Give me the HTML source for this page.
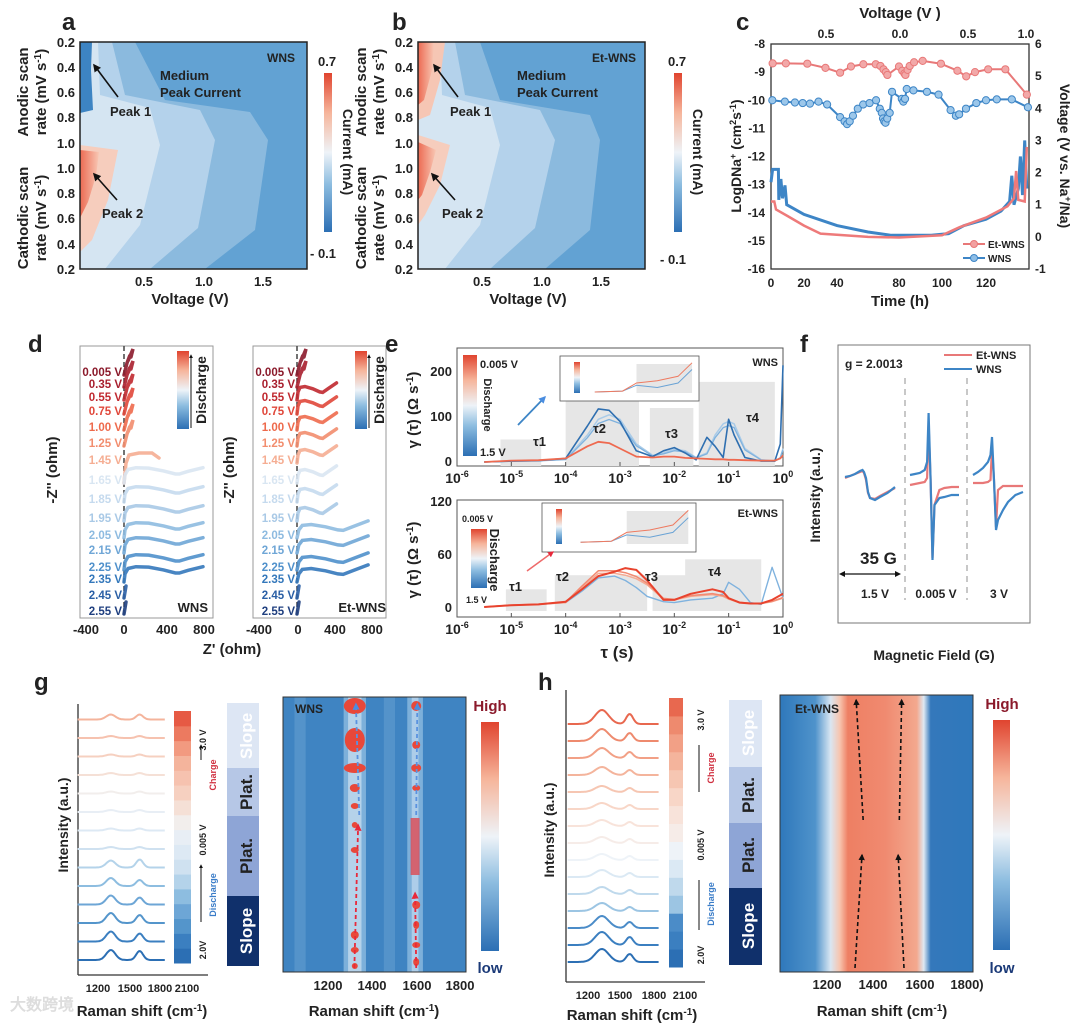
<!DOCTYPE html>
<html><head><meta charset="utf-8"><style>
html,body{margin:0;padding:0;background:#fff}
svg{display:block;font-family:"Liberation Sans",Arial,sans-serif;font-weight:bold}
text{fill:#222}
</style></head><body>
<svg id="fig" width="1080" height="1024" viewBox="0 0 1080 1024" xmlns="http://www.w3.org/2000/svg">
<defs>
<linearGradient id="cbRB" x1="0" y1="1" x2="0" y2="0"><stop offset="0" stop-color="#2c6fb4"/><stop offset="0.3" stop-color="#8dbde0"/><stop offset="0.5" stop-color="#eef3f8"/><stop offset="0.75" stop-color="#f6b59b"/><stop offset="1" stop-color="#e0442f"/></linearGradient>
<linearGradient id="redPk" x1="0" y1="0" x2="1" y2="0"><stop offset="0" stop-color="#ec6a52"/><stop offset="1" stop-color="#f8c7b4"/></linearGradient>
<marker id="ah" viewBox="0 0 10 10" refX="8" refY="5" markerWidth="5" markerHeight="5" orient="auto"><path d="M0,0L10,5L0,10z" fill="#111"/></marker>
<marker id="ahR" viewBox="0 0 10 10" refX="8" refY="5" markerWidth="4" markerHeight="4" orient="auto"><path d="M0,0L10,5L0,10z" fill="#e8283a"/></marker>
<marker id="ahB" viewBox="0 0 10 10" refX="8" refY="5" markerWidth="4" markerHeight="4" orient="auto"><path d="M0,0L10,5L0,10z" fill="#4a8de0"/></marker>
<marker id="ahK" viewBox="0 0 10 10" refX="8" refY="5" markerWidth="4" markerHeight="4" orient="auto"><path d="M0,0L10,5L0,10z" fill="#111"/></marker>
<marker id="ahBoth" viewBox="0 0 10 10" refX="5" refY="5" markerWidth="5" markerHeight="5" orient="auto-start-reverse"><path d="M0,0L10,5L0,10z" fill="#111"/></marker>
</defs>

<!-- ===== Panel a ===== -->
<g>
<text x="62" y="30" font-size="24">a</text>
<rect x="80" y="42" width="227" height="227" fill="#62a2d3"/>
<polygon points="80,42 135,42 165,100 250,112 268,140 255,230 205,269 80,269" fill="#8bbade"/>
<polygon points="80,42 112,42 125,95 200,110 215,140 198,228 150,269 80,269" fill="#b4d2eb"/>
<polygon points="80,42 98,42 100,95 150,108 160,145 140,225 105,269 80,269" fill="#d5e5f2"/>
<polygon points="80,145 118,150 108,200 92,240 80,252" fill="#f6cdbd"/>
<polygon points="80,150 99,152 96,176 88,202 80,218" fill="url(#redPk)"/>
<polygon points="80,42 92,42 91,70 93,110 80,113" fill="#3d84c3"/>
<rect x="80" y="42" width="227" height="227" fill="none" stroke="#222" stroke-width="1.5"/>
<text x="295" y="62" font-size="12" text-anchor="end">WNS</text>
<text x="160" y="80" font-size="13" fill="#1e2d40">Medium</text>
<text x="160" y="97" font-size="13">Peak Current</text>
<line x1="118" y1="97" x2="94" y2="65" stroke="#111" stroke-width="1.6" marker-end="url(#ah)"/>
<text x="110" y="116" font-size="13">Peak 1</text>
<line x1="117" y1="200" x2="94" y2="174" stroke="#111" stroke-width="1.6" marker-end="url(#ah)"/>
<text x="102" y="218" font-size="13">Peak 2</text>
<g font-size="13" text-anchor="end">
<text x="75" y="47">0.2</text><text x="75" y="72">0.4</text><text x="75" y="97">0.6</text><text x="75" y="122">0.8</text><text x="75" y="148">1.0</text><text x="75" y="173">1.0</text><text x="75" y="198">0.8</text><text x="75" y="223">0.6</text><text x="75" y="249">0.4</text><text x="75" y="274">0.2</text></g>
<g font-size="13" text-anchor="middle"><text x="144" y="286">0.5</text><text x="204" y="286">1.0</text><text x="263" y="286">1.5</text></g>
<text x="190" y="304" font-size="15" text-anchor="middle">Voltage (V)</text>
<text transform="translate(28,92) rotate(-90)" font-size="15" text-anchor="middle">Anodic scan</text>
<text transform="translate(46,92) rotate(-90)" font-size="15" text-anchor="middle">rate (mV s<tspan font-size="10" dy="-5">-1</tspan><tspan dy="5">)</tspan></text>
<text transform="translate(28,218) rotate(-90)" font-size="15" text-anchor="middle">Cathodic scan</text>
<text transform="translate(46,218) rotate(-90)" font-size="15" text-anchor="middle">rate (mV s<tspan font-size="10" dy="-5">-1</tspan><tspan dy="5">)</tspan></text>
<rect x="324" y="73" width="8" height="159" fill="url(#cbRB)"/>
<text x="318" y="66" font-size="13">0.7</text>
<text x="310" y="258" font-size="13">- 0.1</text>
<text transform="translate(343,152) rotate(90)" font-size="14" text-anchor="middle">Current (mA)</text>
</g>

<!-- ===== Panel b ===== -->
<g>
<text x="392" y="30" font-size="24">b</text>
<rect x="418" y="42" width="227" height="227" fill="#62a2d3"/>
<polygon points="418,42 480,42 500,100 590,115 600,140 590,230 545,269 418,269" fill="#8bbade"/>
<polygon points="418,42 455,42 465,95 540,110 555,140 535,228 490,269 418,269" fill="#b4d2eb"/>
<polygon points="418,42 440,42 442,95 490,108 500,145 480,225 445,269 418,269" fill="#d5e5f2"/>
<polygon points="418,42 445,42 440,80 430,115 418,120" fill="#f6c6b4"/>
<polygon points="418,42 434,42 432,70 424,100 418,105" fill="url(#redPk)"/>
<polygon points="418,135 450,145 440,185 425,215 418,225" fill="#f6cdbd"/>
<polygon points="418,142 436,150 430,172 422,195 418,200" fill="url(#redPk)"/>
<rect x="418" y="42" width="227" height="227" fill="none" stroke="#222" stroke-width="1.5"/>
<text x="636" y="62" font-size="12" text-anchor="end">Et-WNS</text>
<text x="517" y="80" font-size="13">Medium</text>
<text x="517" y="97" font-size="13">Peak Current</text>
<line x1="458" y1="97" x2="434" y2="65" stroke="#111" stroke-width="1.6" marker-end="url(#ah)"/>
<text x="450" y="116" font-size="13">Peak 1</text>
<line x1="455" y1="200" x2="432" y2="174" stroke="#111" stroke-width="1.6" marker-end="url(#ah)"/>
<text x="442" y="218" font-size="13">Peak 2</text>
<g font-size="13" text-anchor="end">
<text x="413" y="47">0.2</text><text x="413" y="72">0.4</text><text x="413" y="97">0.6</text><text x="413" y="122">0.8</text><text x="413" y="148">1.0</text><text x="413" y="173">1.0</text><text x="413" y="198">0.8</text><text x="413" y="223">0.6</text><text x="413" y="249">0.4</text><text x="413" y="274">0.2</text></g>
<g font-size="13" text-anchor="middle"><text x="482" y="286">0.5</text><text x="542" y="286">1.0</text><text x="601" y="286">1.5</text></g>
<text x="528" y="304" font-size="15" text-anchor="middle">Voltage (V)</text>
<text transform="translate(366,92) rotate(-90)" font-size="15" text-anchor="middle">Anodic scan</text>
<text transform="translate(384,92) rotate(-90)" font-size="15" text-anchor="middle">rate (mV s<tspan font-size="10" dy="-5">-1</tspan><tspan dy="5">)</tspan></text>
<text transform="translate(366,218) rotate(-90)" font-size="15" text-anchor="middle">Cathodic scan</text>
<text transform="translate(384,218) rotate(-90)" font-size="15" text-anchor="middle">rate (mV s<tspan font-size="10" dy="-5">-1</tspan><tspan dy="5">)</tspan></text>
<rect x="674" y="73" width="8" height="159" fill="url(#cbRB)"/>
<text x="668" y="66" font-size="13">0.7</text>
<text x="660" y="264" font-size="13">- 0.1</text>
<text transform="translate(693,152) rotate(90)" font-size="14" text-anchor="middle">Current (mA)</text>
</g>

<!-- ===== Panel c ===== -->
<g id="pc">
<text x="736" y="30" font-size="24">c</text>
<rect x="771" y="44" width="258" height="225" fill="none" stroke="#333" stroke-width="1.3"/>
<text x="900" y="18" font-size="15" text-anchor="middle">Voltage (V )</text>
<g font-size="12" text-anchor="middle"><text x="826" y="38">0.5</text><text x="900" y="38">0.0</text><text x="968" y="38">0.5</text><text x="1026" y="38">1.0</text></g>
<text x="900" y="306" font-size="15" text-anchor="middle">Time (h)</text>
<text transform="translate(741,156) rotate(-90)" font-size="14" text-anchor="middle">LogDNa<tspan font-size="9" dy="-5">+</tspan><tspan dy="5"> (cm</tspan><tspan font-size="9" dy="-5">2</tspan><tspan dy="5">s</tspan><tspan font-size="9" dy="-5">-1</tspan><tspan dy="5">)</tspan></text>
<text transform="translate(1060,156) rotate(90)" font-size="14" text-anchor="middle">Voltage (V vs. Na<tspan font-size="9" dy="-5">+</tspan><tspan dy="5">/Na)</tspan></text>
<g id="cMarks"></g>
<line x1="963" y1="244" x2="985" y2="244" stroke="#e87878" stroke-width="2"/>
<circle cx="974" cy="244" r="3.5" fill="#f2a0a0" stroke="#e87878"/>
<text x="988" y="248" font-size="10">Et-WNS</text>
<line x1="963" y1="258" x2="985" y2="258" stroke="#3d85c6" stroke-width="2"/>
<circle cx="974" cy="258" r="3.5" fill="#8dbde6" stroke="#3d85c6"/>
<text x="988" y="262" font-size="10">WNS</text>
</g>

<!-- ===== Panel d ===== -->
<g id="pd">
<text x="28" y="352" font-size="24">d</text>
<rect x="80" y="346" width="133" height="272" fill="none" stroke="#999" stroke-width="1"/>
<rect x="253" y="346" width="133" height="272" fill="none" stroke="#999" stroke-width="1"/>
<line x1="124" y1="346" x2="124" y2="618" stroke="#444" stroke-width="1.5" stroke-dasharray="5,3"/>
<line x1="297" y1="346" x2="297" y2="618" stroke="#444" stroke-width="1.5" stroke-dasharray="5,3"/>
<g id="dMarks"></g>
<text x="208" y="612" font-size="13" text-anchor="end">WNS</text>
<text x="386" y="612" font-size="13" text-anchor="end">Et-WNS</text>
<g font-size="13" text-anchor="middle"><text x="86" y="634">-400</text><text x="124" y="634">0</text><text x="167" y="634">400</text><text x="204" y="634">800</text><text x="259" y="634">-400</text><text x="298" y="634">0</text><text x="335" y="634">400</text><text x="372" y="634">800</text></g>
<text x="232" y="654" font-size="15" text-anchor="middle">Z' (ohm)</text>
<text transform="translate(57,470) rotate(-90)" font-size="15" text-anchor="middle">-Z'' (ohm)</text>
<text transform="translate(234,470) rotate(-90)" font-size="15" text-anchor="middle">-Z'' (ohm)</text>
<rect x="177" y="351" width="12" height="78" fill="url(#cbRB)"/>
<rect x="355" y="351" width="12" height="78" fill="url(#cbRB)"/>
<line x1="191" y1="428" x2="191" y2="355" stroke="#111" stroke-width="1" marker-end="url(#ahK)"/>
<line x1="369" y1="428" x2="369" y2="355" stroke="#111" stroke-width="1" marker-end="url(#ahK)"/>
<text transform="translate(206,390) rotate(-90)" font-size="14" text-anchor="middle">Discharge</text>
<text transform="translate(384,390) rotate(-90)" font-size="14" text-anchor="middle">Discharge</text>
</g>

<!-- ===== Panel e ===== -->
<g id="pe">
<text x="385" y="352" font-size="24">e</text>
<rect x="457" y="348" width="326" height="118" fill="none" stroke="#555" stroke-width="1"/>
<rect x="457" y="500" width="326" height="117" fill="none" stroke="#555" stroke-width="1"/>
<g id="eMarks"></g>
<text x="778" y="366" font-size="11" text-anchor="end">WNS</text>
<text x="778" y="517" font-size="11" text-anchor="end">Et-WNS</text>
<g font-size="13" text-anchor="end"><text x="452" y="466">0</text><text x="452" y="421">100</text><text x="452" y="376">200</text><text x="452" y="612">0</text><text x="452" y="559">60</text><text x="452" y="506">120</text></g>
<text transform="translate(418,410) rotate(-90)" font-size="15" text-anchor="middle">γ (τ) (Ω s<tspan font-size="10" dy="-5">-1</tspan><tspan dy="5">)</tspan></text>
<text transform="translate(418,560) rotate(-90)" font-size="15" text-anchor="middle">γ (τ) (Ω s<tspan font-size="10" dy="-5">-1</tspan><tspan dy="5">)</tspan></text>
<text x="617" y="658" font-size="17" text-anchor="middle">τ (s)</text>
<g font-size="13"><text x="533" y="446">τ1</text><text x="593" y="433">τ2</text><text x="665" y="438">τ3</text><text x="746" y="422">τ4</text><text x="509" y="591">τ1</text><text x="556" y="581">τ2</text><text x="645" y="581">τ3</text><text x="708" y="576">τ4</text></g>
<rect x="463" y="355" width="14" height="101" fill="url(#cbRB)"/>
<text x="480" y="368" font-size="11">0.005 V</text>
<text x="480" y="456" font-size="11">1.5 V</text>
<text transform="translate(484,405) rotate(90)" font-size="11" text-anchor="middle">Discharge</text>
<rect x="471" y="529" width="16" height="59" fill="url(#cbRB)"/>
<text x="462" y="522" font-size="9">0.005 V</text>
<text x="466" y="603" font-size="9">1.5 V</text>
<text transform="translate(490,560) rotate(90)" font-size="13" text-anchor="middle">Discharge</text>
<rect x="560" y="356" width="139" height="45" fill="#fff" stroke="#555" stroke-width="0.8"/>
<rect x="542" y="503" width="154" height="49" fill="#fff" stroke="#555" stroke-width="0.8"/>
<g id="eInset"></g>
<line x1="518" y1="425" x2="545" y2="397" stroke="#3d85c6" stroke-width="1.8" marker-end="url(#ahB)"/>
<line x1="527" y1="571" x2="553" y2="552" stroke="#ee6a6a" stroke-width="1.5" marker-end="url(#ahR)"/>
</g>

<!-- ===== Panel f ===== -->
<g id="pf">
<text x="800" y="352" font-size="24">f</text>
<rect x="838" y="345" width="192" height="278" fill="none" stroke="#777" stroke-width="1"/>
<line x1="905" y1="378" x2="905" y2="600" stroke="#aaa" stroke-width="1.3" stroke-dasharray="6,5"/>
<line x1="967" y1="378" x2="967" y2="600" stroke="#aaa" stroke-width="1.3" stroke-dasharray="6,5"/>
<text x="845" y="368" font-size="12">g = 2.0013</text>
<line x1="944" y1="355" x2="972" y2="355" stroke="#e87878" stroke-width="2"/>
<text x="976" y="359" font-size="11">Et-WNS</text>
<line x1="944" y1="369" x2="972" y2="369" stroke="#3d85c6" stroke-width="2"/>
<text x="976" y="373" font-size="11">WNS</text>
<g id="fMarks"></g>
<text x="860" y="564" font-size="17">35 G</text>
<line x1="842" y1="574" x2="898" y2="574" stroke="#111" stroke-width="1.2" marker-start="url(#ahBoth)" marker-end="url(#ahBoth)"/>
<g font-size="12" text-anchor="middle"><text x="875" y="598">1.5 V</text><text x="936" y="598">0.005 V</text><text x="999" y="598">3 V</text></g>
<text transform="translate(820,495) rotate(-90)" font-size="14" text-anchor="middle">Intensity (a.u.)</text>
<text x="934" y="660" font-size="14" text-anchor="middle">Magnetic Field (G)</text>
</g>

<!-- ===== Panel g ===== -->
<g id="pg">
<text x="34" y="690" font-size="24">g</text>
<line x1="78" y1="704" x2="78" y2="975" stroke="#333" stroke-width="1.3"/>
<line x1="78" y1="975" x2="208" y2="975" stroke="#333" stroke-width="1.3"/>
<g id="gSpec"></g>
<g font-size="11" text-anchor="middle"><text x="98" y="992">1200</text><text x="130" y="992">1500</text><text x="160" y="992">1800</text><text x="187" y="992">2100</text></g>
<text x="142" y="1016" font-size="15" text-anchor="middle">Raman shift (cm<tspan font-size="10" dy="-5">-1</tspan><tspan dy="5">)</tspan></text>
<text transform="translate(68,825) rotate(-90)" font-size="14" text-anchor="middle">Intensity (a.u.)</text>
<g id="gCb"></g>
<text transform="translate(206,740) rotate(-90)" font-size="9" text-anchor="middle">3.0 V</text>
<text transform="translate(206,840) rotate(-90)" font-size="9" text-anchor="middle">0.005 V</text>
<text transform="translate(206,950) rotate(-90)" font-size="9" text-anchor="middle">2.0V</text>
<text transform="translate(216,775) rotate(-90)" font-size="9" text-anchor="middle" style="fill:#d03040">Charge</text>
<text transform="translate(216,895) rotate(-90)" font-size="9" text-anchor="middle" style="fill:#3a7cc8">Discharge</text>
<line x1="201" y1="760" x2="201" y2="745" stroke="#111" marker-end="url(#ahK)"/>
<line x1="201" y1="922" x2="201" y2="865" stroke="#111" marker-end="url(#ahK)"/>
<g>
<rect x="227" y="703" width="32" height="65" fill="#dde6f4"/><rect x="227" y="768" width="32" height="48" fill="#b6c7e6"/><rect x="227" y="816" width="32" height="80" fill="#8ea5d6"/><rect x="227" y="896" width="32" height="70" fill="#10306b"/>
<text transform="translate(252,736) rotate(-90)" font-size="17" text-anchor="middle" style="fill:#fff">Slope</text>
<text transform="translate(252,792) rotate(-90)" font-size="17" text-anchor="middle">Plat.</text>
<text transform="translate(252,856) rotate(-90)" font-size="17" text-anchor="middle">Plat.</text>
<text transform="translate(252,931) rotate(-90)" font-size="17" text-anchor="middle" style="fill:#fff">Slope</text>
</g>
<g id="gHeat"></g>
<text x="295" y="713" font-size="12">WNS</text>
<g font-size="13" text-anchor="middle"><text x="328" y="990">1200</text><text x="372" y="990">1400</text><text x="417" y="990">1600</text><text x="460" y="990">1800</text></g>
<text x="374" y="1016" font-size="15" text-anchor="middle">Raman shift (cm<tspan font-size="10" dy="-5">-1</tspan><tspan dy="5">)</tspan></text>
<rect x="481" y="722" width="18" height="229" fill="url(#cbRB)"/>
<text x="490" y="711" font-size="15" text-anchor="middle" style="fill:#8b1a2b">High</text>
<text x="490" y="973" font-size="15" text-anchor="middle" style="fill:#1b3a78">low</text>
</g>

<!-- ===== Panel h ===== -->
<g id="ph">
<text x="538" y="690" font-size="24">h</text>
<line x1="566" y1="690" x2="566" y2="982" stroke="#333" stroke-width="1.3"/>
<line x1="566" y1="982" x2="705" y2="982" stroke="#333" stroke-width="1.3"/>
<g id="hSpec"></g>
<g font-size="11" text-anchor="middle"><text x="588" y="999">1200</text><text x="620" y="999">1500</text><text x="654" y="999">1800</text><text x="685" y="999">2100</text></g>
<text x="632" y="1020" font-size="15" text-anchor="middle">Raman shift (cm<tspan font-size="10" dy="-5">-1</tspan><tspan dy="5">)</tspan></text>
<text transform="translate(554,830) rotate(-90)" font-size="14" text-anchor="middle">Intensity (a.u.)</text>
<g id="hCb"></g>
<text transform="translate(704,720) rotate(-90)" font-size="9" text-anchor="middle">3.0 V</text>
<text transform="translate(704,845) rotate(-90)" font-size="9" text-anchor="middle">0.005 V</text>
<text transform="translate(704,955) rotate(-90)" font-size="9" text-anchor="middle">2.0V</text>
<text transform="translate(714,768) rotate(-90)" font-size="9" text-anchor="middle" style="fill:#d03040">Charge</text>
<text transform="translate(714,904) rotate(-90)" font-size="9" text-anchor="middle" style="fill:#3a7cc8">Discharge</text>
<line x1="699" y1="792" x2="699" y2="745" stroke="#111"/>
<line x1="699" y1="930" x2="699" y2="880" stroke="#111"/>
<g>
<rect x="729" y="700" width="33" height="67" fill="#dde6f4"/><rect x="729" y="767" width="33" height="56" fill="#b6c7e6"/><rect x="729" y="823" width="33" height="65" fill="#8ea5d6"/><rect x="729" y="888" width="33" height="77" fill="#10306b"/>
<text transform="translate(754,733) rotate(-90)" font-size="17" text-anchor="middle" style="fill:#fff">Slope</text>
<text transform="translate(754,795) rotate(-90)" font-size="17" text-anchor="middle">Plat.</text>
<text transform="translate(754,855) rotate(-90)" font-size="17" text-anchor="middle">Plat.</text>
<text transform="translate(754,926) rotate(-90)" font-size="17" text-anchor="middle" style="fill:#fff">Slope</text>
</g>
<g id="hHeat"></g>
<text x="795" y="713" font-size="12">Et-WNS</text>
<g font-size="13" text-anchor="middle"><text x="827" y="989">1200</text><text x="873" y="989">1400</text><text x="920" y="989">1600</text><text x="967" y="989">1800)</text></g>
<text x="882" y="1016" font-size="15" text-anchor="middle">Raman shift (cm<tspan font-size="10" dy="-5">-1</tspan><tspan dy="5">)</tspan></text>
<rect x="993" y="720" width="17" height="230" fill="url(#cbRB)"/>
<text x="1002" y="709" font-size="15" text-anchor="middle" style="fill:#8b1a2b">High</text>
<text x="1002" y="973" font-size="15" text-anchor="middle" style="fill:#1b3a78">low</text>
</g>
<text x="10" y="1010" font-size="16" style="fill:#ddd">大数跨境</text>
</svg>

<script>
// ---------- Panel c data ----------
const etTime = [1,9,22,33,42,49,57,65,68,70,71.5,72.5,80,81.5,82.5,83,84,85,87,91,99.5,107,111,115,121,129,139];
const etLogD = [-8.69,-8.69,-8.7,-8.85,-9.02,-8.8,-8.72,-8.72,-8.78,-8.9,-9.0,-9.1,-8.8,-8.95,-9.05,-9.1,-8.92,-8.78,-8.65,-8.6,-8.7,-8.95,-9.15,-9.0,-8.9,-8.9,-9.8];
const wnsTime = [0.8,8.4,14.5,19.2,23.6,28.8,34,42,44.9,46.5,48.2,50.3,53.4,56.9,61,65.2,67.6,68.9,69.7,70.5,71.3,72.4,74,75.5,81.3,82,82.8,83.6,86.7,93,98.4,103.9,106.3,107.8,110.9,115.6,120,125,132,139.5];
const wnsLogD = [-10.0,-10.05,-10.08,-10.1,-10.12,-10.05,-10.15,-10.6,-10.75,-10.85,-10.75,-10.55,-10.3,-10.15,-10.1,-10.0,-10.3,-10.45,-10.65,-10.75,-10.8,-10.65,-10.45,-9.7,-9.95,-10.05,-9.95,-9.6,-9.65,-9.7,-9.8,-10.35,-10.55,-10.5,-10.3,-10.1,-10.0,-9.97,-9.97,-10.25];
const wnsVT = [0,1,4.5,4.7,6,7,8.5,9.5,20,40,60,75,95,103,110,120,127,131,132,133,135,136,137,138,139];
const wnsV = [1.7,2.1,2.1,1.15,1.8,1.2,1.6,1.0,0.7,0.35,0.15,0.05,0.05,0.1,0.35,0.55,0.8,1.1,1.9,1.0,1.5,2.5,1.3,3.0,1.5];
const etVT = [0,2,3,10,20,30,60,80,100,108,120,130,133,134,135,138,139];
const etV = [1.1,1.1,0.85,0.65,0.35,0.1,0.0,-0.02,0.05,0.3,0.6,0.95,1.2,2.05,1.15,1.1,2.8];
const timeTicks = [0,20,40,80,100,120,140];
const timeTickPx = [771,804,837,899,942,986,1029];
const logDTicks = [-8,-9,-10,-11,-12,-13,-14,-15,-16];
const voltTicks = [6,5,4,3,2,1,0,-1];

// ---------- Panel d data ----------
const dLabels = ['0.005 V','0.35 V','0.55 V','0.75 V','1.00 V','1.25 V','1.45 V','1.65 V','1.85 V','1.95 V','2.05 V','2.15 V','2.25 V','2.35 V','2.45 V','2.55 V'];
const dColors = ['#8b1a2b','#a81f2e','#c0282f','#e0473a','#ee6a4c','#f28d6e','#f5ad92','#d9e6f2','#c5daee','#a9c9e6','#8ebbe0','#6fa6d6','#4f90cb','#3478bb','#2a5fa5','#1f3f7f'];
const dLabelY = [372,384,397,411,427,443,460,480,499,518,535,550,567,579,595,611];
const nyqReal = [0,10,40,120,250,400,520,560,650,800];
const nyqWns = [0,18,30,34,33,27,20,20,26,34];
const nyqEtReal = [0,10,30,80,160,230,260,320,400];
const nyqEt = [0,18,28,30,25,18,17,26,38];

// ---------- Panel e data ----------
const eTopLogTau = [-5.5,-5,-4.5,-4,-3.6,-3.4,-3.2,-3,-2.7,-2.4,-2.2,-2,-1.8,-1.6,-1.4,-1.25,-1.1,-1,-0.9,-0.7,-0.4,-0.15,-0.05,0];
const eTopRed = [0,3,4,8,35,45,42,30,12,10,12,12,9,8,7,6,6,5,5,4,3,3,8,15];
const eTopBlueA = [0,2,3,8,80,118,115,90,25,12,25,32,20,5,55,35,10,95,60,10,2,2,40,215];
const eTopBlueB = [0,2,3,6,60,95,105,95,40,15,20,28,25,10,20,60,85,90,85,30,5,2,10,30];
const eBotLogTau = [-5.5,-5,-4.5,-4,-3.7,-3.4,-3.1,-2.9,-2.7,-2.5,-2.2,-2,-1.7,-1.3,-1.1,-1,-0.8,-0.6,-0.4,-0.2,0];
const eBotRed = [0,2,3,6,20,35,40,44,42,30,8,8,15,20,17,10,5,4,4,8,15];
const eBotRedB = [0,2,3,5,22,38,38,36,32,25,9,8,12,14,12,9,5,4,4,6,10];
const eBotBlue = [0,2,3,5,18,33,35,30,22,12,6,5,8,10,15,28,20,5,3,45,10];
const eTopBoxes = [[-5.2,-4.45,50],[-4,-2.65,180],[-2.45,-1.65,120],[-1.55,-0.15,178]];
const eBotBoxes = [[-5.1,-4.35,20],[-4.2,-2.5,36],[-2.4,-1.6,36],[-1.8,-0.4,54]];

// ---------- Panel f data ----------
const fField = [0,0.1,0.2,0.3,0.35,0.38,0.42,0.46,0.5,0.6,0.7,0.85,1.0];
const f15Wns = [3,4,6,9,10,8,2,-12,-18,-20,-17,-13,-7];
const f15Et = [2,4,6,8,9,7,0,-13,-18,-19,-16,-12,-8];
const f0Wns = [5,6,7,10,18,67,0,-80,-25,-18,-17,-15,-15];
const f0Et = [-5,-4,-3,-2,2,55,0,-78,-25,-10,-8,-7,-7];
const f3Wns = [5,8,12,18,25,43,0,-50,-40,-30,-22,-15,-12];
const f3Et = [-3,-3,-3,-2,0,32,0,-47,-10,-6,-6,-6,-6];

// ---------- Panel g/h data ----------
const gDAmp = [10,10,10,9,8,7,2,2,2,2,2,2,2,5];
const gGAmp = [9,8,8,7,6,8,2,2,2,2,2,2,2,5];
const gColors = ['#2c6fb4','#3b7fc0','#5495cb','#6da6d6','#8dbde0','#b4d3ea','#cfe1f0','#dde9f4','#e8eef5','#f2eeec','#f5e0d6','#f6d0c0','#f6c2af','#f4b49c'];
const hDAmp = [13,13,12,8,7,7,6,6,6,6,6,8,10,12,14];
const hGAmp = [8,8,6,4,4,4,4,4,4,4,4,5,6,8,10];
const hColors = ['#2c6fb4','#3b7fc0','#4b8cc8','#9cc5e3','#bfd9ec','#dbe9f4','#eef3f8','#f6ece8','#f8e3da','#f8d6c7','#f6c6b2','#f4b49c','#f2a086','#ee8a6e','#e8684f'];
const gBlobD = [[706,11,8],[740,10,12],[768,11,5],[788,5,4],[806,4,3],[825,3,3],[850,4,3],[935,4,4],[950,4,3],[966,3,3]];
const gBlobG = [[706,5,5],[745,4,4],[768,5,4],[788,4,3],[905,4,4],[925,3,4],[945,4,3],[962,3,4]];

const NS='http://www.w3.org/2000/svg';
function mk(tag,parent){const e=document.createElementNS(NS,tag);parent.appendChild(e);return e;}
function pts(xs,ys){return xs.map((x,i)=>x.toFixed(1)+','+ys[i].toFixed(1)).join(' ');}

// ---------- Draw c ----------
(function(){
  const g=document.getElementById('cMarks');
  const tx=t=>{for(let i=0;i<timeTicks.length-1;i++){if(t<=timeTicks[i+1]){const f=(t-timeTicks[i])/(timeTicks[i+1]-timeTicks[i]);return timeTickPx[i]+f*(timeTickPx[i+1]-timeTickPx[i]);}}return 1029;};
  const yL=v=>44+(-8-v)*(225/8);
  const yR=v=>44+(6-v)*(225/7);
  logDTicks.forEach(v=>{const t=mk('text',g);t.setAttribute('x',765);t.setAttribute('y',yL(v)+4);t.setAttribute('font-size','12');t.setAttribute('text-anchor','end');t.textContent=v;
    
    });
  voltTicks.forEach(v=>{const t=mk('text',g);t.setAttribute('x',1035);t.setAttribute('y',yR(v)+4);t.setAttribute('font-size','12');t.textContent=v;
    
    });
  timeTicks.slice(0,6).forEach((v,i)=>{const t=mk('text',g);t.setAttribute('x',timeTickPx[i]);t.setAttribute('y',287);t.setAttribute('font-size','12');t.setAttribute('text-anchor','middle');t.textContent=v;
    
    });
  const wl=mk('polyline',g);wl.setAttribute('points',pts(wnsVT.map(tx),wnsV.map(yR)));wl.setAttribute('fill','none');wl.setAttribute('stroke','#3d85c6');wl.setAttribute('stroke-width','3');
  
  
  const el=mk('polyline',g);el.setAttribute('points',pts(etVT.map(tx),etV.map(yR)));el.setAttribute('fill','none');el.setAttribute('stroke','#ee7a7a');el.setAttribute('stroke-width','2.5');
  
  
  [[etTime,etLogD,'#e87878','#f2a8a8','et-wns'],[wnsTime,wnsLogD,'#3d85c6','#9cc7ea','wns']].forEach(s=>{
    const l=mk('polyline',g);l.setAttribute('points',pts(s[0].map(tx),s[1].map(yL)));l.setAttribute('fill','none');l.setAttribute('stroke',s[2]);l.setAttribute('stroke-width','2');
    
    
    s[0].forEach((t,i)=>{const c=mk('circle',g);c.setAttribute('cx',tx(t));c.setAttribute('cy',yL(s[1][i]));c.setAttribute('r','3.6');c.setAttribute('fill',s[3]);c.setAttribute('stroke',s[2]);c.setAttribute('stroke-width','1');
      
      });
  });
})();

// ---------- Draw d ----------
(function(){
  const g=document.getElementById('dMarks');
  [[80,124,0.0988,nyqReal,nyqWns,7,14,'wns'],[253,297,0.0988,nyqEtReal,nyqEt,2,14,'et-wns']].forEach(P=>{
    const x0=P[1],sx=P[2];
    dLabels.forEach((lab,i)=>{
      const t=mk('text',g);t.setAttribute('x',x0-2);t.setAttribute('y',dLabelY[i]+4);t.setAttribute('font-size','11.5');t.setAttribute('text-anchor','end');t.style.fill=dColors[i];t.textContent=lab;
      
      
      const base=dLabelY[i]+3;
      let xs,ys;
      if(i>=P[5]&&i<P[6]){
        const k=(P[7]==='et-wns'&&i>=10)?1.8:1;
        xs=P[3].map(r=>x0+r*sx*k);ys=P[4].map(v=>base-v*0.45);
      } else if(i<P[5]||i<7){
        xs=[x0,x0+3,x0+6,x0+4,x0+9,x0+7];ys=[base,base-12,base-20,base-14,base-26,base-18].map(v=>Math.max(v,348));
        if(P[7]==='wns'&&i===6){xs=[x0,x0+2,x0+5,x0+15,x0+28,x0+35];ys=[base+20,base,base-8,base-10,base-10,base-5];}
      } else { xs=[x0,x0+2];ys=[base,base-12]; }
      const pl=mk('polyline',g);pl.setAttribute('points',pts(xs,ys));pl.setAttribute('fill','none');pl.setAttribute('stroke',dColors[i]);pl.setAttribute('stroke-width','3.5');pl.setAttribute('stroke-linecap','round');pl.setAttribute('opacity','0.9');
      
      
    });
  });
})();

// ---------- Draw e ----------
(function(){
  const g=document.getElementById('eMarks');
  const X=lt=>457+(lt+6)*54.33;
  const yT=v=>462-v*0.45, yB=v=>607-v*0.883;
  eTopBoxes.forEach(b=>{const r=mk('rect',g);r.setAttribute('x',X(b[0]));r.setAttribute('width',X(b[1])-X(b[0]));r.setAttribute('y',yT(b[2]));r.setAttribute('height',yT(0)-yT(b[2])+4);r.setAttribute('fill','#e6e6e6');
    
    });
  eBotBoxes.forEach(b=>{const r=mk('rect',g);r.setAttribute('x',X(b[0]));r.setAttribute('width',X(b[1])-X(b[0]));r.setAttribute('y',yB(b[2]));r.setAttribute('height',yB(0)-yB(b[2])+4);r.setAttribute('fill','#e6e6e6');
    
    });
  const line=(xs,ys,c,w,name)=>{const p=mk('polyline',g);p.setAttribute('points',pts(xs,ys));p.setAttribute('fill','none');p.setAttribute('stroke',c);p.setAttribute('stroke-width',w);p.setAttribute('stroke-linejoin','round');
    
    };
  const tx=eTopLogTau.map(X), bx=eBotLogTau.map(X);
  line(tx,eTopBlueB.map(v=>yT(v)),'#a9cbe8',1.5,'drt-curve-wns-light');
  line(tx,eTopBlueB.map(v=>yT(v*0.9)),'#7fb2de',1.3,'drt-curve-wns-mid');
  line(tx,eTopBlueA.map(v=>yT(v)),'#2f6fb0',1.6,'drt-curve-wns-dark');
  line(tx,eTopRed.map(v=>yT(v)),'#ee6a50',1.8,'drt-curve-wns-red');
  line(bx,eBotBlue.map(v=>yB(v)),'#7fb2de',1.4,'drt-curve-et-blue');
  line(bx,eBotRedB.map(v=>yB(v)),'#f5ab94',1.5,'drt-curve-et-light');
  line(bx,eBotRedB.map(v=>yB(v*1.08)),'#f28a72',1.5,'drt-curve-et-mid');
  line(bx,eBotRed.map(v=>yB(v)),'#e8432e',2,'drt-curve-et-red');
  [-6,-5,-4,-3,-2,-1,0].forEach(e=>{[466,617].forEach(yb=>{
    const t=mk('text',g);t.setAttribute('x',X(e));t.setAttribute('y',yb+17);t.setAttribute('font-size','14');t.setAttribute('text-anchor','middle');
    t.innerHTML='10<tspan font-size="9" dy="-6">'+e+'</tspan>';
    
    
    const tk=mk('line',g);tk.setAttribute('x1',X(e));tk.setAttribute('x2',X(e));tk.setAttribute('y1',yb);tk.setAttribute('y2',yb-4);tk.setAttribute('stroke','#555');
    
    });});
  const gi=document.getElementById('eInset');
  [[560,356,139,45],[542,503,154,49]].forEach((b,k)=>{
    const r=mk('rect',gi);r.setAttribute('x',b[0]+b[2]*0.55);r.setAttribute('y',b[1]+8);r.setAttribute('width',b[2]*0.4);r.setAttribute('height',b[3]-16);r.setAttribute('fill','#e6e6e6');
    
    
    const xs=[0.25,0.45,0.55,0.7,0.85,0.95].map(f=>b[0]+b[2]*f);
    const ysR=[0.8,0.78,0.6,0.55,0.45,0.15].map(f=>b[1]+b[3]*f);
    const ysB=[0.8,0.78,0.65,0.7,0.6,0.3].map(f=>b[1]+b[3]*f);
    const p1=mk('polyline',gi);p1.setAttribute('points',pts(xs,ysB));p1.setAttribute('fill','none');p1.setAttribute('stroke','#6aa3d5');
    
    
    const p2=mk('polyline',gi);p2.setAttribute('points',pts(xs,ysR));p2.setAttribute('fill','none');p2.setAttribute('stroke','#ee7a60');
    
    
    const cb=mk('rect',gi);cb.setAttribute('x',b[0]+14);cb.setAttribute('y',b[1]+6);cb.setAttribute('width',6);cb.setAttribute('height',b[3]-14);cb.setAttribute('fill','url(#cbRB)');
    
    
  });
})();

// ---------- Draw f ----------
(function(){
  const g=document.getElementById('fMarks');
  const groups=[[845,50,480,f15Wns,f15Et],[910,49,480,f0Wns,f0Et],[973,50,480,f3Wns,f3Et]];
  groups.forEach((G)=>{
    const xs=fField.map(f=>G[0]+f*G[1]);
    const pe=mk('polyline',g);pe.setAttribute('points',pts(xs,G[4].map(v=>G[2]-v)));pe.setAttribute('fill','none');pe.setAttribute('stroke','#e87878');pe.setAttribute('stroke-width','2.2');
    
    
    const pw=mk('polyline',g);pw.setAttribute('points',pts(xs,G[3].map(v=>G[2]-v)));pw.setAttribute('fill','none');pw.setAttribute('stroke','#3d85c6');pw.setAttribute('stroke-width','2.2');
    
    
  });
})();

// ---------- Draw g/h spectra ----------
function spectra(gid,x0,sx,xEnd,baseY,dy,dAmp,gAmp,cols,dPos,dW,gPos,gW){
  const g=document.getElementById(gid);
  dAmp.forEach((a,i)=>{
    const xs=[],ys=[];
    for(let c=1010;c<=xEnd;c+=12){
      const v=a*Math.exp(-Math.pow((c-dPos)/dW,2))+gAmp[i]*Math.exp(-Math.pow((c-gPos)/gW,2));
      xs.push(x0+(c-1050)*sx);ys.push(baseY-i*dy-v);
    }
    const p=mk('polyline',g);p.setAttribute('points',pts(xs,ys));p.setAttribute('fill','none');p.setAttribute('stroke',cols[i]);p.setAttribute('stroke-width','2');
    
    
  });
}
spectra('gSpec',82,0.1067,1830,960,18.5,gDAmp,gGAmp,gColors,1320,60,1590,45);
spectra('hSpec',572,0.1067,1870,962,17,hDAmp,hGAmp,hColors,1330,90,1590,45);

function cbar(gid,x,y,w,h,cols){
  const g=document.getElementById(gid);const n=cols.length;
  cols.forEach((c,i)=>{const r=mk('rect',g);r.setAttribute('x',x);r.setAttribute('y',y+h-(i+1)*h/n);r.setAttribute('width',w);r.setAttribute('height',h/n+0.5);r.setAttribute('fill',c);
    
    });
}
cbar('gCb',174,711,17,252,gColors.concat(['#f29a80','#ec7a60','#e65a44']));
cbar('hCb',669,698,14,269,hColors);

// ---------- heatmaps ----------
(function(){
  const g=document.getElementById('gHeat');
  const X=c=>328+(c-1200)*0.2233;
  const bg=mk('rect',g);bg.setAttribute('x',283);bg.setAttribute('y',697);bg.setAttribute('width',183);bg.setAttribute('height',275);bg.setAttribute('fill','#3f84c2');
  
  
  [[1270,1370,'#8dbbe0'],[1290,1350,'#c3dbee'],[1555,1625,'#8dbbe0'],[1575,1605,'#b9d5ec'],[1050,1100,'#5a97cc'],[1450,1500,'#5a97cc']].forEach(b=>{
    const r=mk('rect',g);r.setAttribute('x',X(b[0]));r.setAttribute('y',697);r.setAttribute('width',X(b[1])-X(b[0]));r.setAttribute('height',275);r.setAttribute('fill',b[2]);r.setAttribute('opacity','0.8');
    
    });
  gBlobD.forEach(b=>{const e=mk('ellipse',g);e.setAttribute('cx',X(1320));e.setAttribute('cy',b[0]);e.setAttribute('rx',b[1]);e.setAttribute('ry',b[2]);e.setAttribute('fill','#e8483a');
    
    });
  gBlobG.forEach(b=>{const e=mk('ellipse',g);e.setAttribute('cx',X(1595));e.setAttribute('cy',b[0]);e.setAttribute('rx',b[1]);e.setAttribute('ry',b[2]);e.setAttribute('fill','#e8483a');
    
    });
  const rr=mk('rect',g);rr.setAttribute('x',X(1570));rr.setAttribute('y',818);rr.setAttribute('width',X(1610)-X(1570));rr.setAttribute('height',57);rr.setAttribute('fill','#d9505a');rr.setAttribute('opacity','0.85');
  
  
  [[1318,968,1335,825,'#e8283a','ahR'],[1595,968,1590,893,'#e8283a','ahR'],[1340,815,1325,704,'#5a93e0','ahB'],[1595,815,1600,704,'#5a93e0','ahB']].forEach(a=>{
    const l=mk('line',g);l.setAttribute('x1',X(a[0]));l.setAttribute('y1',a[1]);l.setAttribute('x2',X(a[2]));l.setAttribute('y2',a[3]);l.setAttribute('stroke',a[4]);l.setAttribute('stroke-width','1.8');l.setAttribute('stroke-dasharray','4,3');l.setAttribute('marker-end','url(#'+a[5]+')');
    
    });
  const fr=mk('rect',g);fr.setAttribute('x',283);fr.setAttribute('y',697);fr.setAttribute('width',183);fr.setAttribute('height',275);fr.setAttribute('fill','none');fr.setAttribute('stroke','#333');
  
  
})();
const hStops = [1000,1150,1215,1255,1290,1450,1585,1615,1645,1820];
const hStopColors = ['#2f78bb','#4f93cb','#d9e6f2','#f7c4ae','#ee7f63','#f08a70','#f3a88e','#dde8f2','#3478bb','#2f78bb'];
(function(){
  const g=document.getElementById('hHeat');
  const X=c=>827+(c-1200)*0.2333;
  const d=mk('linearGradient',document.querySelector('defs'));d.id='hGrad';d.setAttribute('x1','0');d.setAttribute('x2','1');d.setAttribute('y1','0');d.setAttribute('y2','0');
  hStops.forEach((s,i)=>{const st=mk('stop',d);st.setAttribute('offset',((X(s)-780)/193).toFixed(3));st.setAttribute('stop-color',hStopColors[i]);});
  const bg=mk('rect',g);bg.setAttribute('x',780);bg.setAttribute('y',695);bg.setAttribute('width',193);bg.setAttribute('height',277);bg.setAttribute('fill','url(#hGrad)');
  
  
  [[1320,968,1350,855],[1530,968,1505,855],[1355,820,1325,700],[1510,820,1520,700]].forEach(a=>{
    const l=mk('line',g);l.setAttribute('x1',X(a[0]));l.setAttribute('y1',a[1]);l.setAttribute('x2',X(a[2]));l.setAttribute('y2',a[3]);l.setAttribute('stroke','#111');l.setAttribute('stroke-width','1.6');l.setAttribute('stroke-dasharray','4,3');l.setAttribute('marker-end','url(#ahK)');
    
    });
  const fr=mk('rect',g);fr.setAttribute('x',780);fr.setAttribute('y',695);fr.setAttribute('width',193);fr.setAttribute('height',277);fr.setAttribute('fill','none');fr.setAttribute('stroke','#333');
  
  
})();
</script>
</body></html>
